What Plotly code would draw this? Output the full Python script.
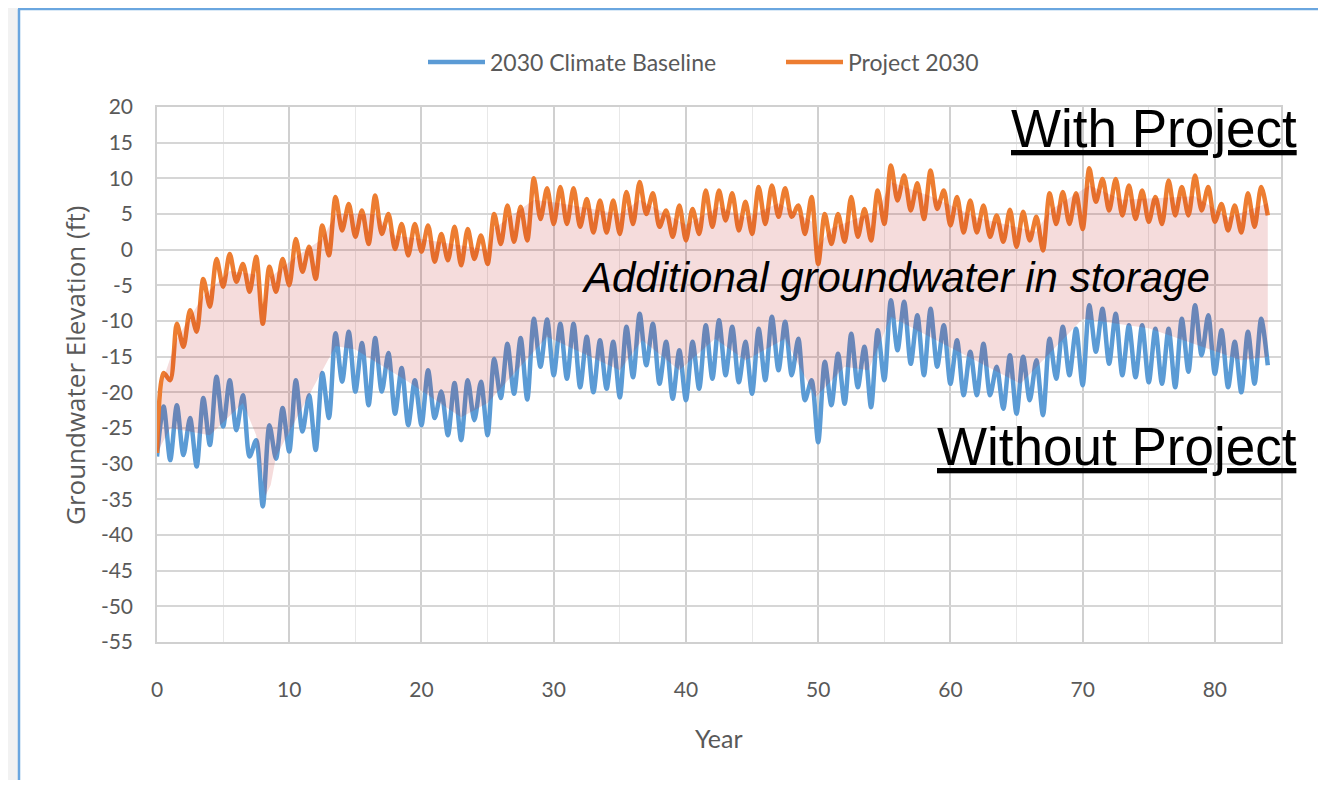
import plotly.graph_objects as go

# ---------------- data ----------------
# samples every half year, from year 0 to year 84
baseline_2030 = [
    -29, -22, -29.5, -21.8, -28.8, -23.6, -30.4, -20.8, -27.4, -17.8,
    -24.8, -18.3, -25.3, -20.4, -29, -26.7, -36, -24.6, -29.3, -22.2,
    -28.3, -18.3, -25.5, -20.4, -28.1, -17.3, -23.6, -11.7, -18.5, -11.5,
    -19.9, -13.1, -21.8, -12.4, -19.9, -14.5, -23, -16.6, -24.6, -18.3,
    -24.6, -16.9, -23.6, -19.9, -26, -18.7, -26.7, -18.3, -23.9, -18.5,
    -26, -15.3, -20.8, -13.2, -20.2, -12.4, -21, -9.7, -16.4, -9.8,
    -17.6, -10.4, -18.1, -10.4, -19.3, -12.2, -20, -12.7, -19.5, -12.9,
    -20.7, -10.8, -17.9, -9.0, -16.2, -10.4, -18.8, -12.9, -20.9, -14.1,
    -21.1, -12.9, -19.5, -10.6, -18.1, -9.9, -17.6, -10.8, -18.6, -12.9,
    -20.2, -11.1, -18.3, -9.4, -16.9, -10.1, -17.6, -12.5, -21.1, -18.3,
    -27.0, -15.7, -21.8, -14.6, -21.6, -11.8, -19.3, -13.6, -22.1, -11.3,
    -18.3, -7.1, -14.1, -7.3, -16.0, -9.2, -17.6, -8.3, -16.4, -10.6,
    -18.8, -12.7, -20.4, -14.3, -20.4, -13.2, -20.4, -16.4, -22.3, -14.8,
    -23.0, -15.0, -21.1, -15.5, -23.2, -12.5, -18.1, -10.8, -17.6, -11.1,
    -19.0, -7.8, -14.3, -8.3, -16.0, -9.0, -17.6, -10.6, -17.9, -10.6,
    -18.6, -11.1, -18.8, -11.1, -19.3, -9.7, -17.1, -7.8, -14.8, -9.2,
    -17.4, -11.3, -19.3, -12.9, -20.0, -11.5, -18.8, -9.7, -16.2,
]

project_2030 = [
    -28.5, -17.3, -18.3, -10.4, -13.6, -8.5, -11.5, -4.1, -8.0, -1.3,
    -5.2, -0.6, -4.5, -2.0, -5.9, -1.0, -10.4, -2.4, -5.9, -1.3,
    -5.0, 1.5, -3.1, 0.4, -4.1, 3.4, -0.8, 7.4, 2.7, 6.4,
    1.8, 5.5, 0.8, 7.6, 2.2, 5.0, 0.1, 3.6, -0.8, 3.6,
    -0.3, 3.4, -1.7, 2.2, -1.5, 3.2, -2.2, 2.9, -1.3, 2.0,
    -2.0, 5.0, 0.8, 6.2, 1.1, 6.0, 1.3, 10.0, 4.3, 8.6,
    3.6, 8.8, 3.6, 8.6, 3.2, 7.1, 2.4, 6.9, 2.4, 6.9,
    2.2, 8.1, 3.6, 9.5, 5.0, 7.9, 3.2, 5.5, 1.8, 6.2,
    1.3, 5.7, 2.2, 8.3, 3.2, 8.3, 4.1, 7.9, 2.7, 6.7,
    2.2, 8.8, 3.6, 9.0, 4.6, 8.6, 4.6, 6.2, 2.2, 7.4,
    -2.0, 5.0, 0.8, 5.0, 1.1, 7.4, 1.8, 5.7, 1.3, 8.3,
    3.6, 11.8, 6.9, 10.4, 5.5, 9.3, 4.3, 11.1, 5.7, 8.3,
    3.4, 7.4, 2.4, 6.9, 2.4, 6.2, 1.8, 4.8, 1.1, 5.6,
    0.4, 5.3, 1.3, 4.6, -0.1, 7.9, 3.6, 8.1, 3.6, 7.9,
    2.9, 11.4, 6.7, 9.9, 5.5, 9.9, 4.8, 9.0, 4.3, 8.3,
    3.9, 7.4, 3.6, 9.7, 4.8, 8.8, 4.8, 10.4, 5.5, 8.8,
    3.9, 6.4, 2.7, 6.2, 2.4, 7.9, 3.2, 8.8, 4.8,
]

years = [i * 0.5 for i in range(len(baseline_2030))]

# hand-drawn "additional storage" band (coarse outline)
band_top_year = [0, 0.5, 1.5, 3.5, 5.5, 7.5, 8, 8.5, 10.5, 12.5, 13.5, 16.5, 18, 20, 25,
                 25.5, 28.5, 30.5, 35, 36.5, 40, 42.5, 44.5, 47, 49.5, 50, 51, 54.5,
                 55.5, 58.5, 62, 66.5, 67.5, 70.5, 73, 78.5, 81, 84]
band_top_value = [-28.5, -18, -12.5, -6.5, -3, -3.5, -8, -4, -1, 1.5, 5, 5, 2, 1.5, 0,
                  3, 7, 6.5, 5, 7, 3.5, 6, 4.5, 6.5, 4, 0.5, 3, 5.5,
                  9.5, 7.5, 4.5, 2.5, 5.5, 9, 7, 7.5, 4.5, 6.5]
band_bottom_year = [0, 1, 4, 6.5, 7.5, 8.2, 8.6, 9, 13.5, 15, 19, 23, 25, 29.5, 35,
                    36.7, 39.5, 42.2, 44.5, 47.5, 49.8, 52, 53.8, 55.5, 65.3, 70,
                    75, 82, 84]
band_bottom_value = [-28.5, -25, -26, -21.5, -26, -34.5, -33, -29, -13.5, -14, -18.5,
                     -23.5, -21.5, -12.2, -16.9, -12.7, -16.9, -12.5, -15.5, -12.5,
                     -20.7, -16.4, -16.9, -9.4, -18.8, -9.7, -11, -15.5, -15]

y_ticks = list(range(-55, 21, 5))
x_ticks = list(range(0, 81, 10))

# ---------------- figure ----------------
# the page body has an 8px margin, so the figure starts at screen (8, 8);
# the figure is sized so the page does not scroll in a 1326x788 window
OFF = 8
W, H = 1310, 772
L, R, T, B = 149, 37, 99, 138
pw, ph = W - L - R, H - T - B


def px(xs):
    """screen x -> paper x"""
    return (xs - OFF - L) / pw


def py(ys):
    """screen y -> paper y"""
    return (H - B - (ys - OFF)) / ph


BLUE = "#5B9BD5"
ORANGE = "#ED7D31"
TXT = "#595959"
FONT = "Lato, Open Sans, sans-serif"
FRAME = "#6aa6df"
GREY = "#f2f2f2"

fig = go.Figure()
fig.add_trace(go.Scatter(
    x=years, y=baseline_2030, mode="lines", name="2030 Climate Baseline",
    line=dict(color=BLUE, width=4.5, shape="spline", smoothing=0.8),
))
fig.add_trace(go.Scatter(
    x=years, y=project_2030, mode="lines", name="Project 2030",
    line=dict(color=ORANGE, width=4.5, shape="spline", smoothing=0.8),
))
fig.add_trace(go.Scatter(
    x=band_top_year + band_bottom_year[::-1],
    y=band_top_value + band_bottom_value[::-1],
    mode="lines", fill="toself", fillcolor="rgba(188,22,22,0.15)",
    line=dict(width=0), showlegend=False, hoverinfo="skip",
))

fig.update_layout(
    width=W, height=H,
    margin=dict(l=L, r=R, t=T, b=B),
    paper_bgcolor="white",
    plot_bgcolor="rgba(0,0,0,0)",
    font=dict(family=FONT, color=TXT, size=21),
    showlegend=True,
    legend=dict(
        orientation="h", x=px(423), xanchor="left", y=py(62), yanchor="middle",
        font=dict(family=FONT, size=23, color=TXT), bgcolor="rgba(0,0,0,0)",
        itemwidth=57, entrywidth=286, entrywidthmode="pixels",
    ),
    xaxis=dict(
        range=[0, 85], tickvals=x_ticks, ticktext=[str(v) for v in x_ticks],
        showgrid=True, gridcolor="#d0d0d0", gridwidth=1.5,
        minor=dict(dtick=5, tick0=0, showgrid=True, gridcolor="#e8e8e8", gridwidth=1.2),
        showline=True, linecolor="#d0d0d0", linewidth=1.5, mirror=True,
        zeroline=False, ticks="", ticklabelstandoff=28,
        tickfont=dict(family=FONT, size=21, color=TXT),
    ),
    yaxis=dict(
        range=[-55, 20], tickvals=y_ticks, ticktext=[str(v) for v in y_ticks],
        showgrid=True, gridcolor="#d6d6d6", gridwidth=1.5,
        showline=True, linecolor="#d0d0d0", linewidth=1.5, mirror=True,
        zeroline=False, ticks="", ticklabelstandoff=18,
        tickfont=dict(family=FONT, size=21, color=TXT),
    ),
    shapes=[
        # grey page strips outside the frame
        dict(type="rect", xref="paper", yref="paper",
             x0=px(0), x1=px(18), y0=py(800), y1=py(0),
             line=dict(width=0), fillcolor=GREY, layer="below"),
        dict(type="rect", xref="paper", yref="paper",
             x0=px(0), x1=px(1326), y0=py(9), y1=py(0),
             line=dict(width=0), fillcolor=GREY, layer="below"),
        # frame edges
        dict(type="line", xref="paper", yref="paper",
             x0=px(19), x1=px(19), y0=py(800), y1=py(9),
             line=dict(color=FRAME, width=2.5), layer="below"),
        dict(type="line", xref="paper", yref="paper",
             x0=px(18), x1=px(1326), y0=py(9), y1=py(9),
             line=dict(color=FRAME, width=2.5), layer="below"),
    ],
    annotations=[
        dict(text="Groundwater Elevation (ft)", xref="paper", yref="paper",
             x=px(75), y=py(366), xanchor="center", yanchor="middle", textangle=-90,
             showarrow=False, font=dict(family="Open Sans, sans-serif", size=26, color=TXT)),
        dict(text="Year", xref="paper", yref="paper", x=px(719), y=py(738),
             xanchor="center", yanchor="middle", showarrow=False,
             font=dict(family=FONT, size=25, color=TXT)),
        dict(text="<u>With Project</u>", xref="paper", yref="paper",
             x=px(1299), y=py(128), xanchor="right", yanchor="middle", showarrow=False,
             font=dict(family="Liberation Sans, Arial, sans-serif", size=53, color="black")),
        dict(text="<u>Without Project</u>", xref="paper", yref="paper",
             x=px(1299), y=py(446), xanchor="right", yanchor="middle", showarrow=False,
             font=dict(family="Liberation Sans, Arial, sans-serif", size=53, color="black")),
        dict(text="<i>Additional groundwater in storage</i>", xref="paper", yref="paper",
             x=px(895), y=py(277), xanchor="center", yanchor="middle", showarrow=False,
             font=dict(family="Liberation Sans, Arial, sans-serif", size=42, color="black")),
    ],
)

fig.write_html("out.html")
